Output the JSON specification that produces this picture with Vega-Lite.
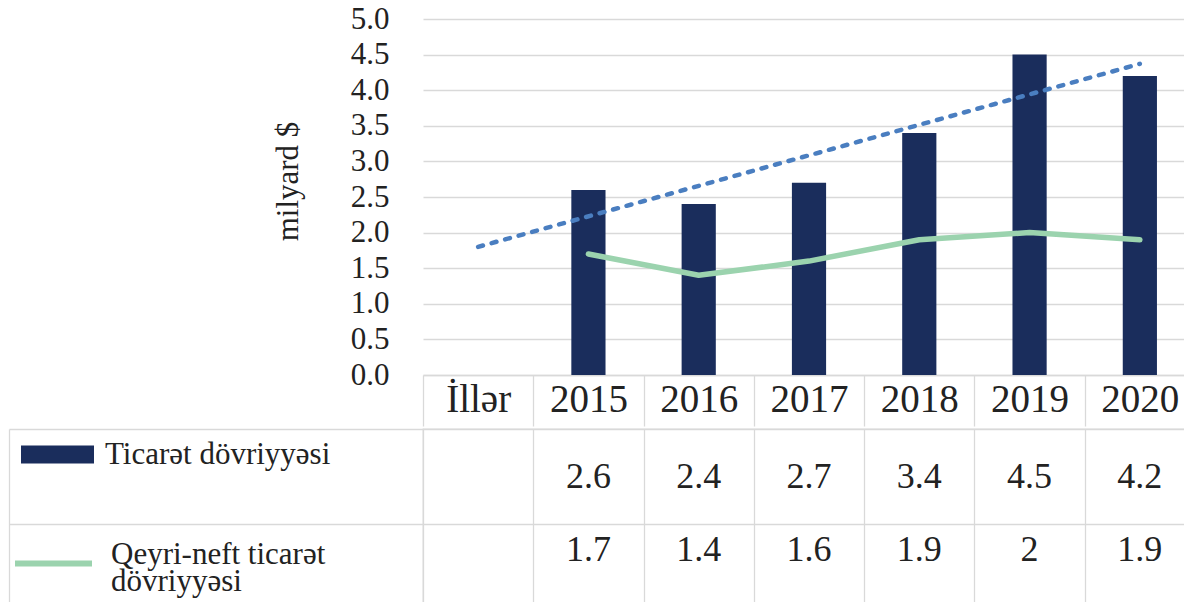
{
  "$schema": "https://vega.github.io/schema/vega-lite/v6.json",
  "autosize": {"type": "pad"},
  "padding": {"left": 7, "top": 3, "right": 0, "bottom": 0},
  "background": "white",
  "config": {
    "font": "Liberation Serif",
    "view": {"stroke": null},
    "style": {"guide-label": {"lineHeight": 27}},
    "axis": {"labelFont": "Liberation Serif", "titleFont": "Liberation Serif", "labelColor": "#222222", "titleColor": "#222222", "titleFontWeight": "normal"},
    "legend": {"labelFont": "Liberation Serif", "labelColor": "#222222"}
  },
  "datasets": {
    "trade": [
      {"year": "2015", "series": "Ticarət dövriyyəsi", "value": 2.6},
      {"year": "2016", "series": "Ticarət dövriyyəsi", "value": 2.4},
      {"year": "2017", "series": "Ticarət dövriyyəsi", "value": 2.7},
      {"year": "2018", "series": "Ticarət dövriyyəsi", "value": 3.4},
      {"year": "2019", "series": "Ticarət dövriyyəsi", "value": 4.5},
      {"year": "2020", "series": "Ticarət dövriyyəsi", "value": 4.2},
      {"year": "2015", "series": "Qeyri-neft ticarət dövriyyəsi", "value": 1.7},
      {"year": "2016", "series": "Qeyri-neft ticarət dövriyyəsi", "value": 1.4},
      {"year": "2017", "series": "Qeyri-neft ticarət dövriyyəsi", "value": 1.6},
      {"year": "2018", "series": "Qeyri-neft ticarət dövriyyəsi", "value": 1.9},
      {"year": "2019", "series": "Qeyri-neft ticarət dövriyyəsi", "value": 2},
      {"year": "2020", "series": "Qeyri-neft ticarət dövriyyəsi", "value": 1.9}
    ],
    "trend": [
      {"year": "İllər", "value": 1.8},
      {"year": "2020", "value": 4.37}
    ]
  },
  "spacing": 0,
  "resolve": {"scale": {"x": "independent", "y": "independent", "fill": "shared", "stroke": "shared"}},
  "vconcat": [
    {
      "width": 772,
      "height": 356,
      "encoding": {
        "x": {
          "field": "year", "type": "nominal",
          "scale": {"domain": ["İllər", "2015", "2016", "2017", "2018", "2019", "2020"], "paddingInner": 0, "paddingOuter": 0},
          "axis": {
            "title": null, "labelAngle": 0, "labelFontSize": 39, "labelBaseline": "middle", "labelPadding": -27,
            "tickBand": "extent", "tickSize": 51, "tickColor": "#d9d9d9", "tickWidth": 1.3,
            "domainColor": "#d9d9d9", "domainWidth": 1.3, "labelFlush": false, "labelOverlap": false, "labelBound": false
          }
        },
        "y": {
          "field": "value", "type": "quantitative",
          "scale": {"domain": [0, 5], "nice": false},
          "axis": {
            "values": [0, 0.5, 1, 1.5, 2, 2.5, 3, 3.5, 4, 4.5, 5], "format": ".1f",
            "labelOverlap": false, "labelFlush": false,
            "domain": false, "ticks": false, "labelFontSize": 31, "labelPadding": 34,
            "grid": true, "gridColor": "#d9d9d9", "gridWidth": 1.3,
            "title": "milyard $", "titleFontSize": 31, "titlePadding": 46, "titleY": 162
          }
        }
      },
      "layer": [
        {
          "data": {"name": "trade"},
          "transform": [{"filter": "datum.series === 'Ticarət dövriyyəsi'"}],
          "mark": {"type": "bar", "width": {"band": 0.31}},
          "encoding": {
            "fill": {
              "field": "series", "type": "nominal",
              "scale": {"domain": ["Ticarət dövriyyəsi"], "range": ["#1a2d5c"]},
              "legend": {
                "orient": "none", "legendX": -402, "legendY": 399, "title": null, "padding": 0,
                "symbolType": "M-1,-0.2466H1V0.2466H-1Z", "symbolSize": 5329, "symbolStrokeWidth": 0,
                "labelFontSize": 31, "labelOffset": 11, "labelLimit": 400
              }
            }
          }
        },
        {
          "data": {"name": "trade"},
          "transform": [{"filter": "datum.series === 'Qeyri-neft ticarət dövriyyəsi'"}],
          "mark": {"type": "line", "strokeWidth": 5.5, "strokeCap": "round", "strokeJoin": "round"},
          "encoding": {
            "stroke": {
              "field": "series", "type": "nominal",
              "scale": {"domain": ["Qeyri-neft ticarət dövriyyəsi"], "range": ["#9bd3ae"]},
              "legend": {
                "orient": "none", "legendX": -411, "legendY": 503, "title": null, "padding": 0,
                "symbolType": "stroke", "symbolSize": 5929, "symbolStrokeWidth": 6,
                "labelFontSize": 31, "labelOffset": 16, "labelLimit": 400, "labelBaseline": "alphabetic",
                "labelExpr": "datum.label == 'Qeyri-neft ticarət dövriyyəsi' ? ['Qeyri-neft ticarət', 'dövriyyəsi'] : datum.label"
              }
            }
          }
        },
        {
          "data": {"name": "trend"},
          "mark": {"type": "line", "stroke": "#4a7ec0", "strokeWidth": 4.5, "strokeDash": [5, 9], "strokeCap": "round"}
        }
      ]
    },
    {
      "width": 772,
      "height": 190,
      "view": {"stroke": "#d9d9d9", "strokeWidth": 1.3},
      "data": {"name": "trade"},
      "encoding": {
        "x": {
          "field": "year", "type": "nominal",
          "scale": {"domain": ["İllər", "2015", "2016", "2017", "2018", "2019", "2020"], "paddingInner": 0, "paddingOuter": 0},
          "axis": {"title": null, "labels": false, "ticks": false, "domain": false, "grid": true, "tickBand": "extent", "gridColor": "#d9d9d9", "gridWidth": 1.3}
        },
        "y": {
          "field": "series", "type": "nominal",
          "scale": {"domain": ["Ticarət dövriyyəsi", "Qeyri-neft ticarət dövriyyəsi"], "paddingInner": 0, "paddingOuter": 0},
          "axis": {
            "title": null, "labels": false, "offset": 414,
            "domain": true, "domainColor": "#d9d9d9", "domainWidth": 1.3,
            "ticks": true, "tickBand": "extent", "tickSize": -414, "tickColor": "#d9d9d9", "tickWidth": 1.3,
            "grid": true, "gridColor": "#d9d9d9", "gridWidth": 1.3
          }
        },
        "text": {"field": "value", "type": "quantitative"}
      },
      "layer": [
        {
          "transform": [{"filter": "datum.series === 'Ticarət dövriyyəsi'"}],
          "mark": {"type": "text", "fontSize": 36, "color": "#222222"}
        },
        {
          "transform": [{"filter": "datum.series === 'Qeyri-neft ticarət dövriyyəsi'"}],
          "mark": {"type": "text", "fontSize": 36, "color": "#222222", "dy": -22}
        }
      ]
    }
  ]
}
